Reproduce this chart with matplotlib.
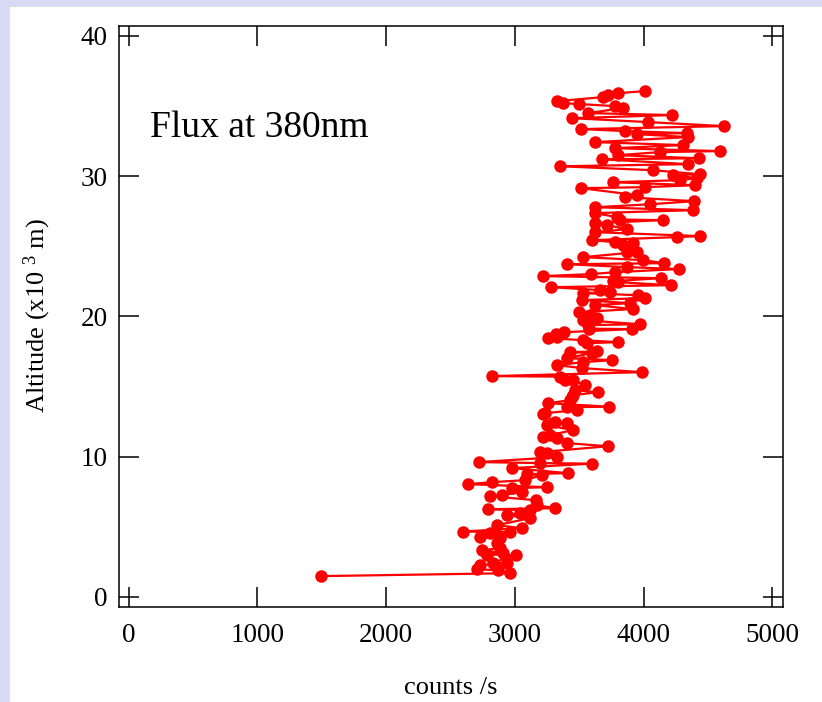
import matplotlib
matplotlib.use("Agg")
import matplotlib.pyplot as plt
from matplotlib.patches import Rectangle

# Balloon profile: photon counts at 380 nm versus altitude (km)
counts = [
    1495, 2962, 2869, 2706, 2729, 2939, 2830, 3009, 2783, 2908,
    2745, 2884, 2861, 2884, 2729, 2807, 2962, 2597, 3055, 2861,
    3117, 2939, 3040, 3117, 2791, 3311, 3172, 3164, 2807, 2900,
    3055, 2977, 3249, 2636, 2822, 3078, 3210, 3094, 3412, 2977,
    3599, 3195, 2721, 3327, 3249, 3195, 3723, 3405, 3327, 3218,
    3272, 3451, 3249, 3405, 3311, 3218, 3234, 3482, 3405, 3731,
    3257, 3428, 3443, 3451, 3645, 3467, 3544, 3451, 3389, 3350,
    2822, 3990, 3521, 3327, 3529, 3754, 3405, 3599, 3428, 3637,
    3560, 3800, 3529, 3257, 3327, 3319, 3381, 3909, 3575, 3568,
    3971, 3529, 3637, 3583, 3498, 3917, 3622, 3894, 3521, 4010,
    3956, 3529, 3738, 3661, 3280, 4212, 3800, 3762, 4134, 3218,
    3591, 3777, 4274, 3870, 3405, 4158, 3995, 3529, 3948, 3870,
    3839, 3917, 3777, 3599, 4259, 4437, 3622, 3870, 3715, 3622,
    4150, 3816, 3793, 3622, 4383, 3622, 4049, 4391, 3855, 3948,
    3513, 4010, 4398, 3762, 4282, 4414, 4228, 4437, 4072, 3350,
    4344, 3676, 4429, 3800, 4127, 4592, 3777, 4305, 3622, 4344,
    3948, 4336, 3855, 3513, 4623, 4033, 3443, 4220, 3568, 3839,
    3777, 3498, 3373, 3327, 3684, 3723, 3800, 4010,
]
altitude = [
    1.48, 1.69, 1.90, 1.97, 2.26, 2.40, 2.45, 2.97, 3.02, 3.12,
    3.33, 3.47, 3.83, 4.19, 4.26, 4.54, 4.61, 4.66, 4.90, 5.11,
    5.61, 5.83, 5.97, 6.18, 6.25, 6.32, 6.54, 6.89, 7.18, 7.25,
    7.47, 7.75, 7.82, 8.04, 8.18, 8.32, 8.68, 8.75, 8.82, 9.18,
    9.50, 9.54, 9.61, 9.96, 10.25, 10.32, 10.74, 10.96, 11.31, 11.38,
    11.53, 11.89, 12.24, 12.39, 12.46, 13.03, 13.10, 13.31, 13.52, 13.56,
    13.81, 14.02, 14.24, 14.38, 14.59, 14.74, 15.09, 15.45, 15.48, 15.70,
    15.74, 16.02, 16.31, 16.52, 16.73, 16.88, 17.02, 17.38, 17.45, 17.50,
    18.09, 18.16, 18.30, 18.45, 18.52, 18.73, 18.87, 19.09, 19.12, 19.37,
    19.44, 19.73, 19.87, 20.08, 20.30, 20.52, 20.80, 20.94, 21.16, 21.30,
    21.51, 21.65, 21.73, 21.87, 22.08, 22.22, 22.44, 22.51, 22.72, 22.87,
    23.01, 23.15, 23.37, 23.51, 23.72, 23.79, 24.01, 24.22, 24.58, 24.62,
    25.08, 25.22, 25.29, 25.43, 25.65, 25.72, 26.00, 26.22, 26.50, 26.64,
    26.86, 26.90, 27.07, 27.36, 27.57, 27.78, 27.99, 28.21, 28.50, 28.64,
    29.14, 29.21, 29.35, 29.56, 29.71, 29.85, 30.06, 30.13, 30.42, 30.70,
    30.85, 31.20, 31.27, 31.49, 31.71, 31.78, 31.99, 32.21, 32.42, 32.78,
    32.99, 33.06, 33.21, 33.35, 33.56, 33.85, 34.13, 34.35, 34.49, 34.85,
    34.99, 35.13, 35.20, 35.34, 35.63, 35.77, 35.91, 36.06,
]
x_ticks = [0, 1000, 2000, 3000, 4000, 5000]
y_ticks = [0, 10, 20, 30, 40]

plt.rcParams['font.family'] = ['Liberation Serif', 'DejaVu Serif']
plt.rcParams['mathtext.fontset'] = 'custom'
plt.rcParams['mathtext.rm'] = 'Liberation Serif'
plt.rcParams['mathtext.default'] = 'regular'

W, H = 822, 702
fig = plt.figure(figsize=(W / 100, H / 100), dpi=100, facecolor='#d6daf2')
# white page area, leaving a thin tinted margin along the left and top edges
fig.patches.append(Rectangle((10 / W, 0), 1 - 10 / W, 1 - 7 / H,
                             transform=fig.transFigure, facecolor='white',
                             edgecolor='none', zorder=-10))

ax = fig.add_axes([118.5 / W, (H - 606.7) / H, 664 / W, 580.7 / H])
ax.plot(counts, altitude, '-o', color='#ff0000', lw=1.6, ms=9,
        markeredgewidth=0, clip_on=False)

ax.set_xlim(-78, 5078)
ax.set_ylim(-0.7, 40.7)
ax.set_xticks(x_ticks)
ax.set_yticks(y_ticks)
ax.tick_params(direction='in', length=14.4, width=1.1, top=True, right=True,
               labelsize=19.5, colors='black')
ax.tick_params(axis='x', pad=12)
ax.tick_params(axis='y', pad=8)
for s in ax.spines.values():
    s.set_linewidth(1.1)

ax.set_xlabel('counts /s', fontsize=19, va='center')
ax.xaxis.set_label_coords(0.5, -0.140)
ax.set_ylabel('Altitude (x10 $^{3}$ m)', fontsize=19, va='center')
ax.yaxis.set_label_coords(-0.1228, 0.5006)

ax.text(0.047, 0.809, 'Flux at 380nm', fontsize=27, transform=ax.transAxes,
        va='baseline', ha='left')

fig.savefig('out.png', dpi=100, facecolor=fig.get_facecolor())
